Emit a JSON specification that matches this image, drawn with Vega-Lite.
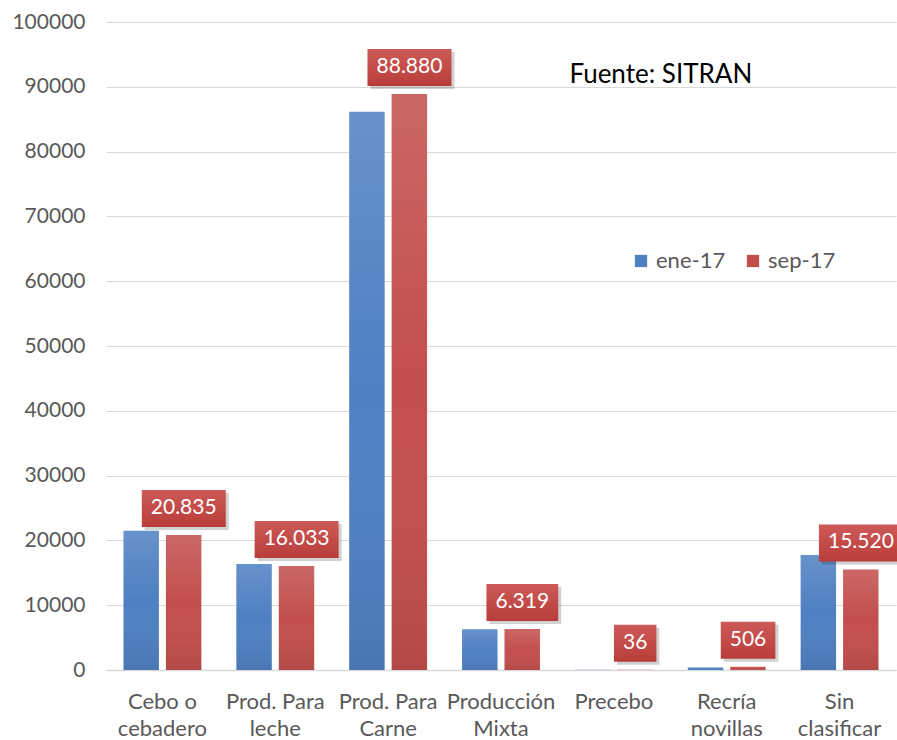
{
  "$schema": "https://vega.github.io/schema/vega-lite/v6.json",
  "width": 790,
  "height": 648,
  "autosize": {"type": "none"},
  "padding": {"left": 106, "top": 22, "right": 1, "bottom": 70},
  "background": "white",
  "config": {
    "font": "Lato",
    "view": {"stroke": null},
    "locale": {"number": {"decimal": ",", "thousands": ".", "grouping": [3], "currency": ["", ""]}}
  },
  "data": {
    "values": [
      {"cat": "Cebo o cebadero", "serie": "ene-17", "value": 21500},
      {"cat": "Cebo o cebadero", "serie": "sep-17", "value": 20835},
      {"cat": "Prod. Para leche", "serie": "ene-17", "value": 16350},
      {"cat": "Prod. Para leche", "serie": "sep-17", "value": 16033},
      {"cat": "Prod. Para Carne", "serie": "ene-17", "value": 86150},
      {"cat": "Prod. Para Carne", "serie": "sep-17", "value": 88880},
      {"cat": "Producción Mixta", "serie": "ene-17", "value": 6280},
      {"cat": "Producción Mixta", "serie": "sep-17", "value": 6319},
      {"cat": "Precebo", "serie": "ene-17", "value": 20},
      {"cat": "Precebo", "serie": "sep-17", "value": 36},
      {"cat": "Recría novillas", "serie": "ene-17", "value": 380},
      {"cat": "Recría novillas", "serie": "sep-17", "value": 506},
      {"cat": "Sin clasificar", "serie": "ene-17", "value": 17750},
      {"cat": "Sin clasificar", "serie": "sep-17", "value": 15520}
    ]
  },
  "encoding": {
    "x": {
      "field": "cat", "type": "nominal", "sort": null,
      "scale": {"paddingInner": 0.31, "paddingOuter": 0.155},
      "axis": {
        "title": null, "labelAngle": 0, "ticks": false, "domain": true,
        "domainColor": "#d9d9d9", "domainWidth": 1.5,
        "labelFontSize": 22, "labelColor": "#595959", "labelPadding": 21,
        "labelLineHeight": 27, "labelBaseline": "top",
        "labelExpr": "{'Cebo o cebadero': ['Cebo o', 'cebadero'], 'Prod. Para leche': ['Prod. Para', 'leche'], 'Prod. Para Carne': ['Prod. Para', 'Carne'], 'Producción Mixta': ['Producción', 'Mixta'], 'Precebo': ['Precebo'], 'Recría novillas': ['Recría', 'novillas'], 'Sin clasificar': ['Sin', 'clasificar']}[datum.value]"
      }
    },
    "y": {
      "field": "value", "type": "quantitative",
      "scale": {"domain": [0, 100000], "nice": false},
      "axis": {
        "title": null, "tickCount": 10, "format": "d", "ticks": false, "domain": false,
        "gridColor": "#d9d9d9", "gridWidth": 1.2,
        "labelFontSize": 21, "labelColor": "#595959", "labelPadding": 21
      }
    }
  },
  "layer": [
    {
      "mark": {"type": "bar"},
      "encoding": {
        "xOffset": {"field": "serie", "type": "nominal", "scale": {"paddingInner": 0.165, "domain": ["ene-17", "sep-17"]}},
        "color": {
          "field": "serie", "type": "nominal",
          "scale": {"domain": ["ene-17", "sep-17"], "range": ["#4f80c2", "#c24f4d"]},
          "legend": {
            "title": null, "orient": "none", "legendX": 524, "legendY": 228,
            "direction": "horizontal", "symbolType": "square", "symbolSize": 150,
            "symbolStrokeWidth": 0, "labelFontSize": 22, "labelColor": "#595959",
            "columnPadding": 16, "labelOffset": 4, "padding": 0
          }
        }
      }
    },
    {
      "mark": {
        "type": "bar",
        "fill": {
          "gradient": "linear", "x1": 0, "y1": 0, "x2": 0, "y2": 1,
          "stops": [
            {"offset": 0, "color": "rgba(255,255,255,0.14)"},
            {"offset": 0.5, "color": "rgba(255,255,255,0)"},
            {"offset": 1, "color": "rgba(0,0,0,0.08)"}
          ]
        }
      },
      "encoding": {
        "xOffset": {"field": "serie", "type": "nominal"}
      }
    },
    {
      "transform": [{"filter": "datum.serie == 'sep-17'"}],
      "mark": {
        "type": "rect", "color": "black", "opacity": 0.18,
        "yOffset": -42, "y2Offset": -5,
        "xOffset": {"expr": "24.35 - ((datum.value >= 1000 ? (datum.value >= 10000 ? 5 : 4) * 12.2 + 5 : (datum.value >= 100 ? 3 : 2) * 12.2) + 18) / 2"},
        "x2Offset": {"expr": "24.35 + ((datum.value >= 1000 ? (datum.value >= 10000 ? 5 : 4) * 12.2 + 5 : (datum.value >= 100 ? 3 : 2) * 12.2) + 18) / 2"}
      },
      "encoding": {"x2": {"field": "cat"}, "y2": {"field": "value"}}
    },
    {
      "transform": [{"filter": "datum.serie == 'sep-17'"}],
      "mark": {
        "type": "rect",
        "fill": {
          "gradient": "linear", "x1": 0, "y1": 0, "x2": 0, "y2": 1,
          "stops": [
            {"offset": 0, "color": "#cd5a58"},
            {"offset": 1, "color": "#b83d3a"}
          ]
        },
        "yOffset": -45, "y2Offset": -8,
        "xOffset": {"expr": "21.35 - ((datum.value >= 1000 ? (datum.value >= 10000 ? 5 : 4) * 12.2 + 5 : (datum.value >= 100 ? 3 : 2) * 12.2) + 18) / 2"},
        "x2Offset": {"expr": "21.35 + ((datum.value >= 1000 ? (datum.value >= 10000 ? 5 : 4) * 12.2 + 5 : (datum.value >= 100 ? 3 : 2) * 12.2) + 18) / 2"}
      },
      "encoding": {"x2": {"field": "cat"}, "y2": {"field": "value"}}
    },
    {
      "transform": [{"filter": "datum.serie == 'sep-17'"}],
      "mark": {"type": "text", "color": "white", "fontSize": 21, "dy": -27, "dx": 21.3, "baseline": "middle", "align": "center"},
      "encoding": {"text": {"field": "value", "type": "quantitative", "format": ",d"}}
    },
    {
      "data": {"values": [{"cat": "Precebo", "value": 91800, "txt": "Fuente: SITRAN"}]},
      "mark": {"type": "text", "color": "black", "fontSize": 26, "align": "center", "baseline": "middle", "dx": 47},
      "encoding": {"text": {"field": "txt"}}
    }
  ]
}
